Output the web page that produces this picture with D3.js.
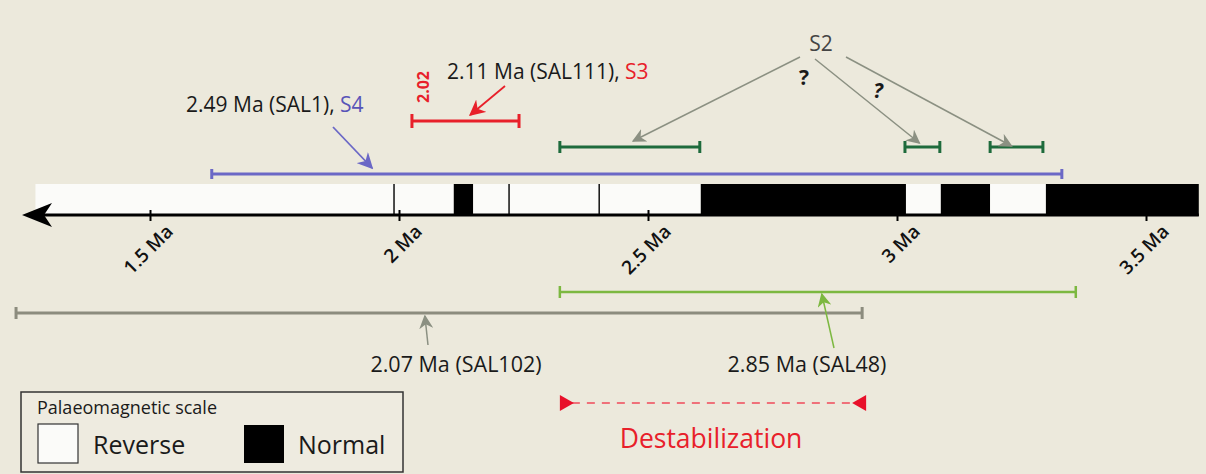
<!DOCTYPE html>
<html><head><meta charset="utf-8">
<script src="https://cdn.jsdelivr.net/npm/d3@7"></script>
<style>body{margin:0;background:#ece9dc;} svg{display:block;font-family:"Open Sans",sans-serif;}</style>
</head><body><svg id="c" width="1206" height="474"></svg>
<script>
// ---- data (Ma) ----
const tickValues = [1.5, 2, 2.5, 3, 3.5];
const tickLabels = ["1.5 Ma", "2 Ma", "2.5 Ma", "3 Ma", "3.5 Ma"];
const polarityStart = [1.27, 2.11, 2.149, 2.606, 3.018, 3.088, 3.187, 3.299];
const polarityEnd   = [2.11, 2.149, 2.606, 3.018, 3.088, 3.187, 3.299, 3.606];
const polarityType  = ["R", "N", "R", "N", "R", "N", "R", "N"];
const shortEvents = [1.99, 2.221, 2.402];
const s4Range = [1.624, 3.331];
const s3Range = [2.026, 2.241];
const s2Ranges = [[2.323, 2.604], [3.016, 3.086], [3.187, 3.293]];
const sal102Range = [1.231, 2.93];
const sal48Range = [2.323, 3.359];
const destabRange = [2.323, 2.938];
const arrowS4 = 1.946, arrowS3 = 2.143, arrowSAL102 = 2.052, arrowSAL48 = 2.849;

const svg = d3.select("#c");
const x = d3.scaleLinear().domain([2, 3]).range([399, 897]);

const defs = svg.append("defs");
function marker(id, color, size) {
  defs.append("marker").attr("id", id).attr("viewBox", "0 0 10 10").attr("refX", 9).attr("refY", 5)
    .attr("markerWidth", size).attr("markerHeight", size).attr("orient", "auto").attr("markerUnits", "userSpaceOnUse")
    .append("path").attr("d", "M0,0 L10,5 L0,10 L3,5 Z").attr("fill", color);
}
marker("ag", "#8b9082", 14);
marker("ab", "#6b68c6", 16);
marker("ar", "#e8202a", 16);
marker("alg", "#7cb840", 14);

svg.append("rect").attr("x", 0).attr("y", 0).attr("width", 1206).attr("height", 474).attr("fill", "#ece9dc");

// ---- polarity bar ----
const barTop = 184, barBot = 216;
svg.selectAll("rect.pol").data(polarityStart.map((s, i) => ({s, e: polarityEnd[i], t: polarityType[i]})))
  .join("rect").attr("class", "pol")
  .attr("x", d => x(d.s)).attr("y", barTop).attr("width", d => x(d.e) - x(d.s)).attr("height", barBot - barTop)
  .attr("fill", d => d.t === "N" ? "#000" : "#fbfbf9");
svg.selectAll("line.ev").data(shortEvents).join("line").attr("class", "ev")
  .attr("x1", d => x(d)).attr("x2", d => x(d)).attr("y1", barTop).attr("y2", barBot)
  .attr("stroke", "#111").attr("stroke-width", 1.5);

// ---- time axis with arrow ----
const axisY = 215;
svg.append("line").attr("x1", 40).attr("x2", x(polarityEnd[polarityEnd.length - 1])).attr("y1", axisY).attr("y2", axisY)
  .attr("stroke", "#000").attr("stroke-width", 3);
svg.append("path").attr("d", `M22,${axisY} L52,${axisY - 12} L44,${axisY} L52,${axisY + 12} Z`).attr("fill", "#000");
const axis = d3.axisBottom(x).tickValues(tickValues).tickSize(0).tickFormat((d, i) => tickLabels[i]);
const gAxis = svg.append("g").attr("transform", `translate(0,${axisY})`).call(axis);
gAxis.select(".domain").remove();
gAxis.selectAll(".tick line").attr("y1", -5).attr("y2", 6).attr("stroke", "#000").attr("stroke-width", 2);
gAxis.selectAll(".tick text").attr("transform", "translate(19,13) rotate(-45)").attr("text-anchor", "end")
  .attr("x", 0).attr("y", 0).attr("dy", "0.35em")
  .attr("font-size", 19).attr("font-weight", 600).attr("font-family", "'Open Sans',sans-serif").attr("fill", "#111");

// ---- range bars ----
function range(r, y, color, w, cap) {
  const g = svg.append("g");
  g.append("line").attr("x1", x(r[0])).attr("x2", x(r[1])).attr("y1", y).attr("y2", y).attr("stroke", color).attr("stroke-width", w);
  g.selectAll("line.cap").data(r).join("line").attr("class", "cap").attr("x1", d => x(d)).attr("x2", d => x(d))
    .attr("y1", y - cap).attr("y2", y + cap).attr("stroke", color).attr("stroke-width", w);
}
range(s4Range, 174, "#6b68c6", 3, 5);
range(s3Range, 121, "#e8202a", 3, 7);
s2Ranges.forEach(r => range(r, 147, "#1e6b3c", 3, 6));
range(sal102Range, 313, "#8c8c7e", 3, 6);
range(sal48Range, 292, "#7cb840", 2.5, 6);

// ---- labels ----
const t = svg.append("g").attr("font-family", "'Open Sans',sans-serif").attr("fill", "#1a1a1a");
const l4 = t.append("text").attr("x", 186).attr("y", 112).attr("font-size", 21);
l4.append("tspan").text("2.49 Ma (SAL1), ");
l4.append("tspan").attr("fill", "#5854b8").text("S4");
const l3 = t.append("text").attr("x", 447).attr("y", 79).attr("font-size", 21);
l3.append("tspan").text("2.11 Ma (SAL111), ");
l3.append("tspan").attr("fill", "#e8202a").text("S3");
t.append("text").attr("transform", `translate(${x(s3Range[0]) + 17},87) rotate(-90)`).attr("text-anchor", "middle")
  .attr("font-size", 16).attr("font-weight", "bold").attr("fill", "#e8202a").text("2.02");
t.append("text").attr("x", 821).attr("y", 51).attr("text-anchor", "middle").attr("font-size", 21).attr("fill", "#444").text("S2");
t.append("text").attr("x", 804).attr("y", 85).attr("text-anchor", "middle").attr("font-size", 21).attr("font-weight", "bold").text("?");
t.append("text").attr("x", 878).attr("y", 98).attr("text-anchor", "middle").attr("font-size", 21).attr("font-weight", "bold").attr("font-style", "italic").text("?");
t.append("text").attr("x", 456).attr("y", 372).attr("text-anchor", "middle").attr("font-size", 21.5).text("2.07 Ma (SAL102)");
t.append("text").attr("x", 807).attr("y", 372).attr("text-anchor", "middle").attr("font-size", 21.5).text("2.85 Ma (SAL48)");
t.append("text").attr("x", 711).attr("y", 448).attr("text-anchor", "middle").attr("font-size", 26.5).attr("fill", "#e8202a").text("Destabilization");

// ---- arrows ----
function arrow(x1, y1, x2, y2, color, mk, w) {
  svg.append("line").attr("x1", x1).attr("y1", y1).attr("x2", x2).attr("y2", y2)
    .attr("stroke", color).attr("stroke-width", w).attr("marker-end", `url(#${mk})`);
}
arrow(333, 127, x(arrowS4), 168, "#6b68c6", "ab", 1.8);
arrow(505, 86, x(arrowS3), 115, "#e8202a", "ar", 1.8);
arrow(800, 57, x(2.47), 141, "#8b9082", "ag", 1.5);
arrow(815, 59, x(3.045), 143, "#8b9082", "ag", 1.5);
arrow(846, 57, x(3.23), 146, "#8b9082", "ag", 1.5);
arrow(428, 345, x(arrowSAL102), 316, "#8b9082", "ag", 1.5);
arrow(834, 348, x(arrowSAL48), 294, "#7cb840", "alg", 1.5);

// ---- destabilization ----
const dy = 403;
svg.append("line").attr("x1", x(destabRange[0]) + 12).attr("x2", x(destabRange[1]) - 12).attr("y1", dy).attr("y2", dy)
  .attr("stroke", "#f04a5a").attr("stroke-width", 1.5).attr("stroke-dasharray", "8,7");
svg.append("path").attr("d", `M${x(destabRange[0])},${dy - 8} L${x(destabRange[0]) + 14},${dy} L${x(destabRange[0])},${dy + 8} Z`).attr("fill", "#e8102a");
svg.append("path").attr("d", `M${x(destabRange[1])},${dy - 8} L${x(destabRange[1]) - 14},${dy} L${x(destabRange[1])},${dy + 8} Z`).attr("fill", "#e8102a");

// ---- legend ----
const lg = svg.append("g");
lg.append("rect").attr("x", 21).attr("y", 392).attr("width", 382).attr("height", 80).attr("fill", "#eeebe0").attr("stroke", "#333").attr("stroke-width", 1.5);
lg.append("text").attr("x", 37).attr("y", 414).attr("font-size", 18).attr("fill", "#1a1a1a").text("Palaeomagnetic scale");
lg.append("rect").attr("x", 38).attr("y", 424).attr("width", 40).attr("height", 39).attr("fill", "#fbfbf9").attr("stroke", "#333").attr("stroke-width", 1.2);
lg.append("text").attr("x", 93).attr("y", 454).attr("font-size", 25).attr("fill", "#1a1a1a").text("Reverse");
lg.append("rect").attr("x", 244).attr("y", 425).attr("width", 40).attr("height", 38).attr("fill", "#000");
lg.append("text").attr("x", 298).attr("y", 454).attr("font-size", 25).attr("fill", "#1a1a1a").text("Normal");
</script></body></html>
